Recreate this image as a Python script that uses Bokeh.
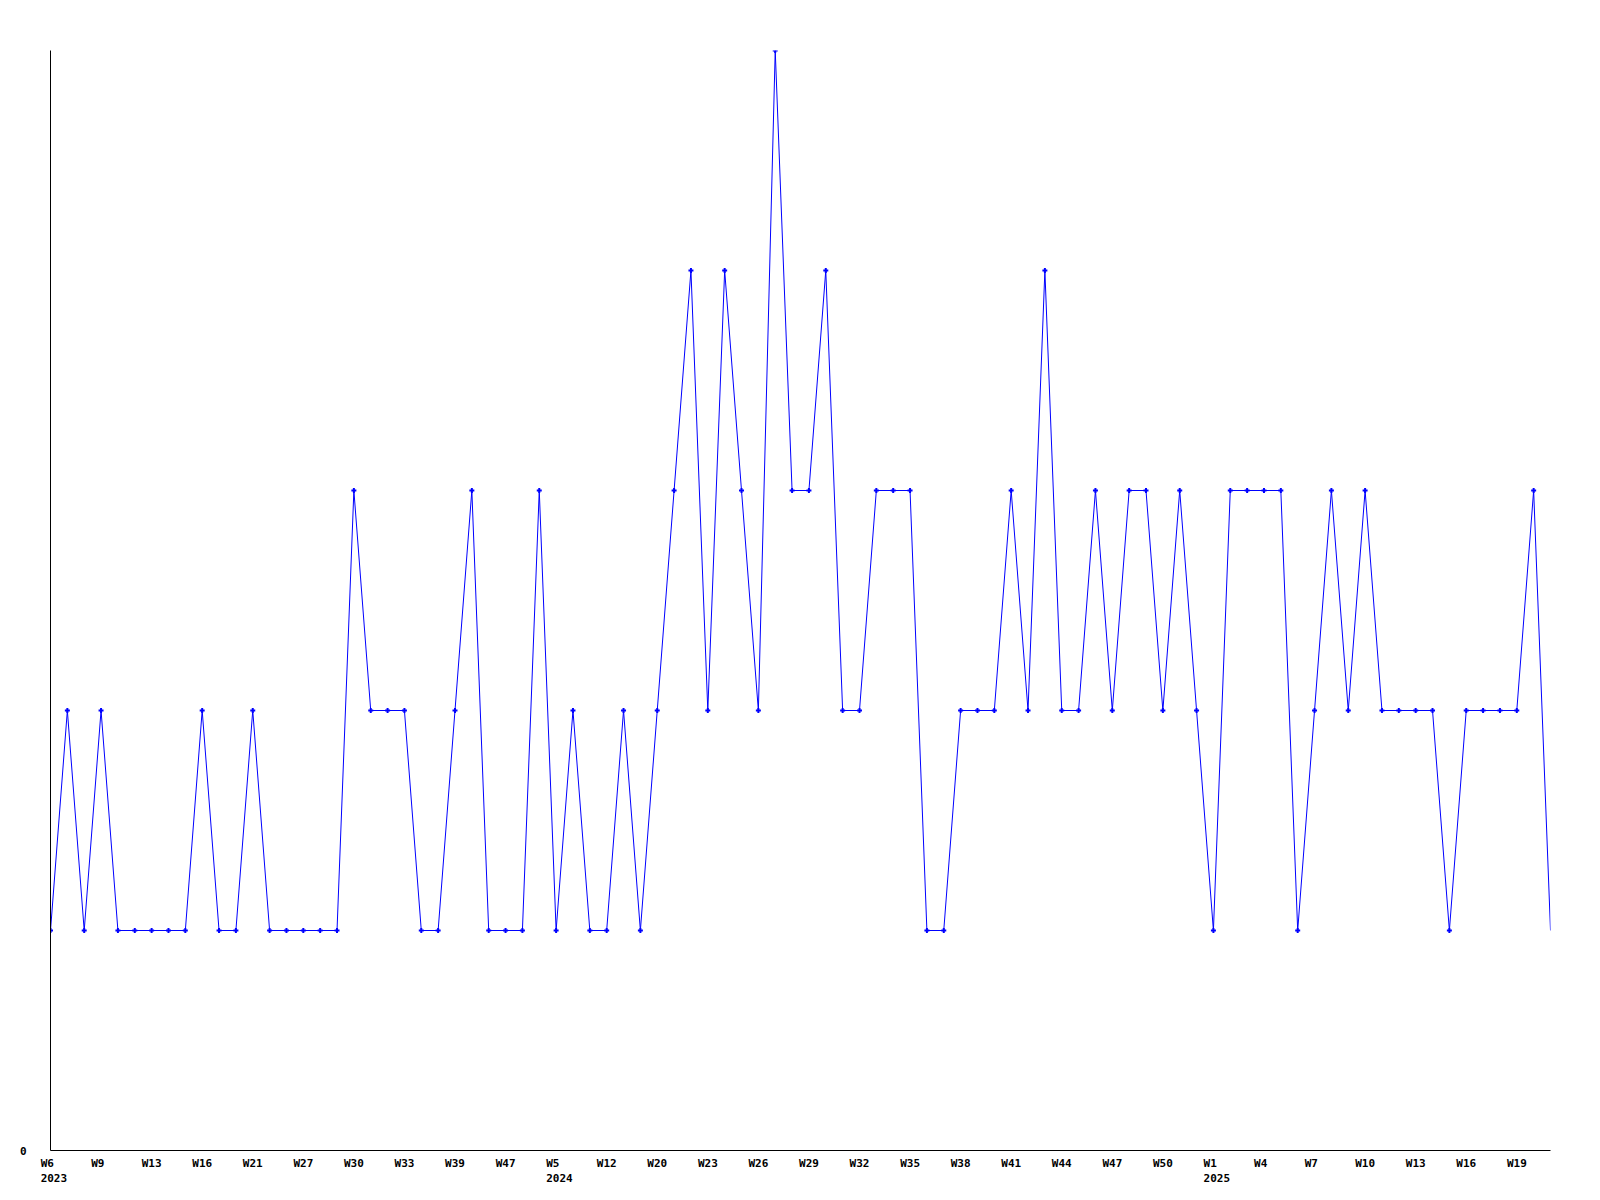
from bokeh.plotting import figure
from bokeh.models import ColumnDataSource, Range1d, FixedTicker, CDSView, IndexFilter
from bokeh.embed import file_html
from bokeh.resources import INLINE

# Weekly counts (categorical sequence of weeks with data)
values = [
    1, 2, 1, 2, 1, 1, 1, 1, 1, 2,
    1, 1, 2, 1, 1, 1, 1, 1, 3, 2,
    2, 2, 1, 1, 2, 3, 1, 1, 1, 3,
    1, 2, 1, 1, 2, 1, 2, 3, 4, 2,
    4, 3, 2, 5, 3, 3, 4, 2, 2, 3,
    3, 3, 1, 1, 2, 2, 2, 3, 2, 4,
    2, 2, 3, 2, 3, 3, 2, 3, 2, 1,
    3, 3, 3, 3, 1, 2, 3, 2, 3, 2,
    2, 2, 2, 1, 2, 2, 2, 2, 3, 1,
]

# Tick labels shown under every third point
tick_index = list(range(0, 88, 3))
tick_labels = [
    "W6\n2023", "W9", "W13", "W16", "W21", "W27", "W30", "W33", "W39", "W47",
    "W5\n2024", "W12", "W20", "W23", "W26", "W29", "W32", "W35", "W38", "W41",
    "W44", "W47", "W50", "W1\n2025", "W4", "W7", "W10", "W13", "W16", "W19",
]

y_ticks = [0]
y_max = 5

FONT = "DejaVu Sans Mono"
BLUE = "#0000ff"

x = list(range(len(values)))
src = ColumnDataSource(dict(x=x, y=values))

p = figure(
    width=1600, height=1200,
    output_backend="svg", toolbar_location=None,
    x_range=Range1d(0, len(values) - 1),
    y_range=Range1d(0, y_max),
    min_border_left=50, min_border_right=50,
    min_border_top=50, min_border_bottom=50,
    background_fill_color="white", border_fill_color="white",
)
p.outline_line_color = None
p.xgrid.visible = False
p.ygrid.visible = False

p.line("x", "y", source=src, line_color=BLUE, line_width=1)
view = CDSView(filter=IndexFilter(list(range(len(values) - 1))))
p.scatter("x", "y", source=src, view=view, marker="cross", size=5,
          line_color=BLUE, line_width=2)


def pad(label):
    return "\n".join(part.ljust(4) for part in label.split("\n"))


shift = 0.2
ticks = [i + shift for i in tick_index]
p.xaxis.ticker = FixedTicker(ticks=ticks)
p.xaxis.major_label_overrides = {t: pad(l) for t, l in zip(ticks, tick_labels)}
p.yaxis.ticker = FixedTicker(ticks=y_ticks)

for ax in (p.xaxis[0], p.yaxis[0]):
    ax.axis_line_color = "black"
    ax.axis_line_width = 1
    ax.major_tick_line_color = None
    ax.minor_tick_line_color = None
    ax.major_label_text_font = FONT
    ax.major_label_text_font_style = "bold"
    ax.major_label_text_font_size = "11px"
    ax.major_label_text_color = "black"

p.xaxis.major_label_standoff = 0
p.xaxis.major_label_text_line_height = 1.17
p.yaxis.major_label_standoff = 18

open("out.html", "w").write(file_html(p, INLINE))
